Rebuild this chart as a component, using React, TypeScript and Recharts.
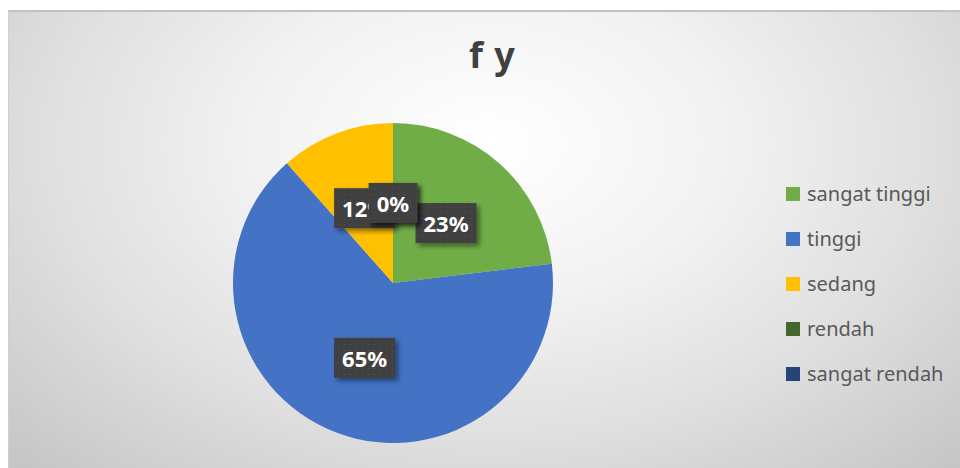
import React from "react";
import { Cell, Legend, Pie, PieChart } from "recharts";

const categories = ["sangat tinggi", "tinggi", "sedang", "rendah", "sangat rendah"];
const counts = [6, 17, 3, 0, 0];
const colors = ["#70AD47", "#4472C4", "#FFC000", "#43682B", "#264478"];
const title = "f y";

const data = categories.map((name, i) => ({ name, value: counts[i] }));

const RAD = Math.PI / 180;
const labelFont = "bold 22px 'Noto Sans'";

let measureCtx: CanvasRenderingContext2D | null = null;
function textWidth(s: string) {
  if (!measureCtx) measureCtx = document.createElement("canvas").getContext("2d");
  if (!measureCtx) return s.length * 12;
  measureCtx.font = labelFont;
  return measureCtx.measureText(s).width;
}

function renderLabel(props: any) {
  const { cx, cy, midAngle, outerRadius, percent, index } = props;
  const r = outerRadius * 0.5;
  const x = cx + r * Math.cos(-midAngle * RAD);
  const y = cy + r * Math.sin(-midAngle * RAD);
  const text = `${Math.round(percent * 100)}%`;
  const w = textWidth(text) + 16;
  const h = 40;
  return (
    <g key={`lbl-${index}`}>
      <rect
        x={x - w / 2}
        y={y - h / 2}
        width={w}
        height={h}
        fill="url(#lblDots)"
        filter="url(#lblShadow)"
      />
      <text
        x={x}
        y={y}
        textAnchor="middle"
        dominantBaseline="central"
        fill="#ffffff"
        style={{ font: labelFont }}
      >
        {text}
      </text>
    </g>
  );
}

function LegendList(props: any) {
  const items = props.payload || [];
  return (
    <div style={{ fontFamily: "'Noto Sans', sans-serif", fontSize: 20, color: "#595959" }}>
      {items.map((it: any) => (
        <div
          key={it.value}
          style={{ display: "flex", alignItems: "center", height: 45, whiteSpace: "nowrap" }}
        >
          <span
            style={{ display: "inline-block", width: 14, height: 14, background: it.color, marginRight: 7 }}
          />
          <span>{it.value}</span>
        </div>
      ))}
    </div>
  );
}

export default function App() {
  return (
    <div style={{ position: "fixed", left: 0, top: 0, width: 960, height: 468, background: "#fff", overflow: "hidden" }}>
      <svg width={0} height={0} style={{ position: "absolute" }}>
        <defs>
          <pattern id="lblDots" width={6} height={6} patternUnits="userSpaceOnUse">
            <rect width={6} height={6} fill="#3f3f3f" />
            <rect x={2} y={2} width={1} height={1} fill="#575757" />
          </pattern>
          <filter id="lblShadow" x="-20%" y="-20%" width="150%" height="160%">
            <feDropShadow dx={3} dy={3} stdDeviation={2.5} floodColor="#000" floodOpacity={0.45} />
          </filter>
        </defs>
      </svg>
      <div
        style={{
          position: "absolute",
          left: 8,
          top: 10,
          width: 960,
          height: 470,
          borderTop: "2px solid #c2c2c2",
          borderLeft: "1px solid #cfcfcf",
          background: "radial-gradient(ellipse 70% 95% at 50% 28%, #ffffff 0%, #f2f2f2 35%, #e0e0e0 65%, #c6c6c6 100%)",
        }}
      />
      <div
        style={{
          position: "absolute",
          left: 392,
          top: 35,
          width: 200,
          height: 40,
          lineHeight: "40px",
          textAlign: "center",
          fontFamily: "'Noto Sans', sans-serif",
          fontWeight: 700,
          fontSize: 36,
          wordSpacing: 2,
          color: "#404040",
        }}
      >
        {title}
      </div>
      <div style={{ position: "absolute", left: 0, top: 0 }}>
        <PieChart width={960} height={468} margin={{ top: 0, right: 0, bottom: 0, left: 0 }}>
          <Pie
            data={data}
            dataKey="value"
            nameKey="name"
            cx={393}
            cy={283}
            outerRadius={160}
            startAngle={90}
            endAngle={-270}
            stroke="none"
            label={renderLabel}
            labelLine={false}
            isAnimationActive={false}
          >
            {data.map((d, i) => (
              <Cell key={d.name} fill={colors[i]} />
            ))}
          </Pie>
          <Legend
            layout="vertical"
            itemSorter={null}
            content={<LegendList />}
            wrapperStyle={{ position: "absolute", left: 786, top: 171, width: 180, bottom: "auto", right: "auto" }}
          />
        </PieChart>
      </div>
    </div>
  );
}
